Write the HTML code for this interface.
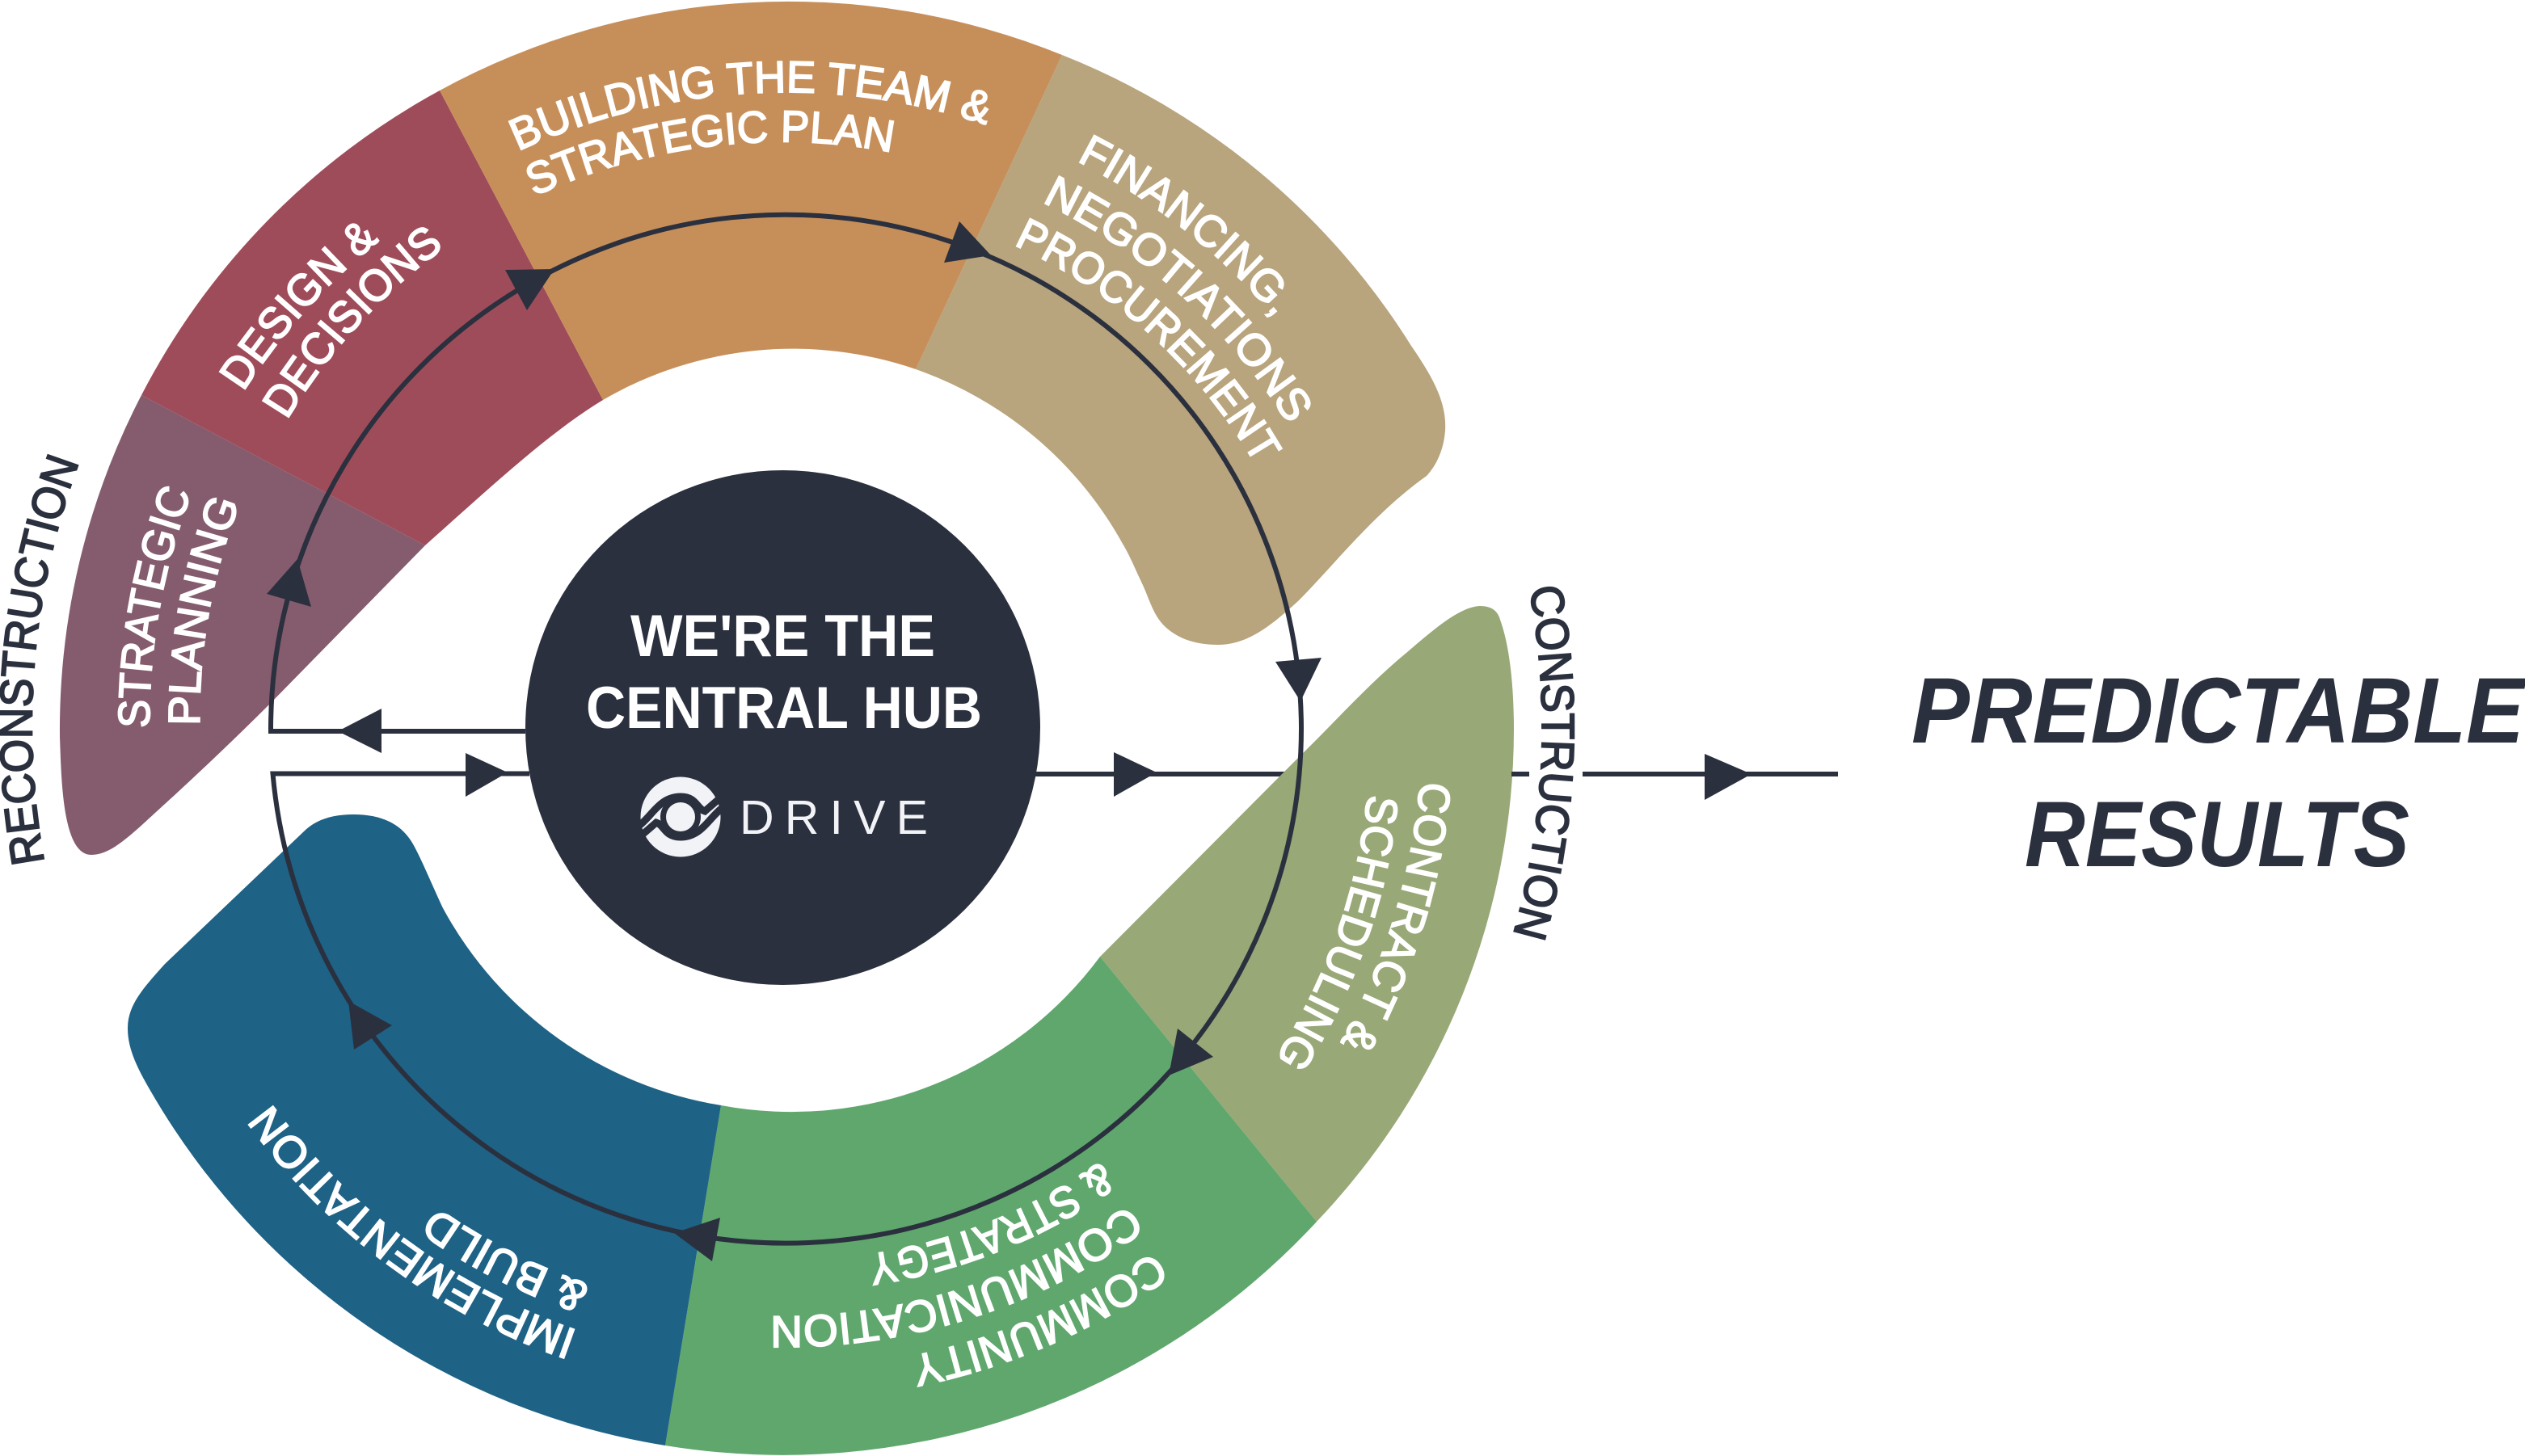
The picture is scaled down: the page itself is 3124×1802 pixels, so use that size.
<!DOCTYPE html>
<html>
<head>
<meta charset="utf-8">
<style>
html,body{margin:0;padding:0;background:#fff;width:3124px;height:1802px;overflow:hidden}
svg{display:block}
.l{font-family:"Liberation Sans",sans-serif;font-size:55px;fill:#fff;stroke:#fff;stroke-width:1.9px}
.o{font-family:"Liberation Sans",sans-serif;font-size:57px;fill:#2b303e;stroke:#2b303e;stroke-width:2px}
</style>
</head>
<body>
<svg xmlns="http://www.w3.org/2000/svg" width="3124" height="1802" viewBox="0 0 3124 1802">
<rect width="3124" height="1802" fill="#fff"/>
<defs>
<path id="p1" d="M641 187A787 787 0 0 1 1222 155"/>
<path id="p2" d="M661 243A726 726 0 0 1 1106 189"/>
<path id="p3" d="M185 901A787 787 0 0 1 237 610"/>
<path id="p4" d="M247 898A726 726 0 0 1 297 622"/>
<path id="p5" d="M301 485A787 787 0 0 1 469 298"/>
<path id="p6" d="M355 520A726 726 0 0 1 552 305"/>
<path id="p7" d="M1332 199A788 788 0 0 1 1578 393"/>
<path id="p8" d="M1289 250A726 726 0 0 1 1594 525"/>
<path id="p9" d="M1254 303A664 664 0 0 1 1554 576"/>
<path id="p10" d="M1757 967A788 788 0 0 1 1658 1291"/>
<path id="p11" d="M1692 983A728 728 0 0 1 1578 1310"/>
<path id="p12" d="M1427 1549A792 792 0 0 1 1126 1679"/>
<path id="p13" d="M1396 1491A727 727 0 0 1 953 1629"/>
<path id="p14" d="M1362 1437A660 660 0 0 1 1073 1553"/>
<path id="p15" d="M715 1647A788 788 0 0 1 335 1365"/>
<path id="p16" d="M730 1590A730 730 0 0 1 540 1494"/>
<path id="p17" d="M55 1067A932 932 0 0 1 98 572"/>
<path id="p18" d="M1892 728A934 934 0 0 1 1872 1157"/>
</defs>

<!-- right output line, behind olive -->
<path d="M1280 958H1600" stroke="#2b303e" stroke-width="6" fill="none"/>

<!-- segments -->
<path fill="#855c6e" d="M175 489A900 900 0 0 0 74 912C76 970 78 1058 113 1058C140 1058 165 1030 215 985Q280 925 335 870L526 675Z"/>
<path fill="#9f4c5a" d="M175 489A900 900 0 0 1 544 112L746 495C680 535 610 600 526 675Z"/>
<path fill="#c68f5a" d="M544 112A900 900 0 0 1 1314 68L1133 457A468 468 0 0 0 746 495Z"/>
<path fill="#b8a47d" d="M1314 68A900 900 0 0 1 1746 428C1775 470 1790 500 1788 533C1786 560 1775 578 1765 589C1700 635 1650 700 1606 744C1575 772 1545 798 1507 798C1478 798 1458 790 1443 777C1426 762 1422 740 1412 720C1404 703 1398 688 1389 673A470 470 0 0 0 1133 457Z"/>
<path fill="#98a877" d="M1361 1184L1629 1512A885 885 0 0 0 1873 903C1873 850 1868 800 1856 767C1852 752 1840 750 1830 750C1805 752 1775 778 1740 808C1695 845 1655 890 1606 938Z"/>
<path fill="#5fa76d" d="M892 1368L823 1789A900 900 0 0 0 1629 1512L1361 1184A475 475 0 0 1 892 1368Z"/>
<path fill="#1e6286" d="M892 1368A478 478 0 0 1 548 1124C530 1085 520 1060 510 1043C495 1018 470 1008 437 1008C410 1008 390 1015 376 1029L204 1193C175 1225 158 1245 158 1273C158 1300 172 1325 185 1348A900 900 0 0 0 823 1789Z"/>

<!-- hub -->
<circle cx="968.5" cy="900.5" r="318.5" fill="#2b303e"/>

<!-- ring and connectors -->
<path d="M650 905H335A637.5 637.5 0 0 1 1610 901.5A637.5 637.5 0 0 1 337.5 957.5H655" fill="none" stroke="#2b303e" stroke-width="6"/>
<path d="M1870 958H1892M1958 958H2274" stroke="#2b303e" stroke-width="6" fill="none"/>

<!-- arrowheads -->
<g fill="#2b303e">
<polygon points="625,334 686,333 652,384"/>
<polygon points="368,692 330,735 385,751"/>
<polygon points="418,905 472,877 472,932"/>
<polygon points="628,956 576,932 576,986"/>
<polygon points="1187,274 1226,316 1168,325"/>
<polygon points="1578,819 1635,814 1609,868"/>
<polygon points="1378,931 1431,956 1378,986"/>
<polygon points="1457,1273 1501,1308 1446,1331"/>
<polygon points="891,1507 834,1526 881,1561"/>
<polygon points="431,1239 485,1269 438,1299"/>
<polygon points="2109,933 2167,958 2109,990"/>
</g>

<!-- segment labels -->
<text class="l"><textPath href="#p1" textLength="594" lengthAdjust="spacingAndGlyphs">BUILDING THE TEAM &amp;</textPath></text>
<text class="l"><textPath href="#p2" textLength="453" lengthAdjust="spacingAndGlyphs">STRATEGIC PLAN</textPath></text>
<text class="l"><textPath href="#p3" textLength="297" lengthAdjust="spacingAndGlyphs">STRATEGIC</textPath></text>
<text class="l"><textPath href="#p4" textLength="282" lengthAdjust="spacingAndGlyphs">PLANNING</textPath></text>
<text class="l"><textPath href="#p5" textLength="253" lengthAdjust="spacingAndGlyphs">DESIGN &amp;</textPath></text>
<text class="l"><textPath href="#p6" textLength="291" lengthAdjust="spacingAndGlyphs">DECISIONS</textPath></text>
<text class="l"><textPath href="#p7" textLength="315" lengthAdjust="spacingAndGlyphs">FINANCING,</textPath></text>
<text class="l"><textPath href="#p8" textLength="417" lengthAdjust="spacingAndGlyphs">NEGOTIATIONS</textPath></text>
<text class="l"><textPath href="#p9" textLength="412" lengthAdjust="spacingAndGlyphs">PROCUREMENT</textPath></text>
<text class="l"><textPath href="#p10" textLength="341" lengthAdjust="spacingAndGlyphs">CONTRACT &amp;</textPath></text>
<text class="l"><textPath href="#p11" textLength="350" lengthAdjust="spacingAndGlyphs">SCHEDULING</textPath></text>
<text class="l"><textPath href="#p12" textLength="330" lengthAdjust="spacingAndGlyphs">COMMUNITY</textPath></text>
<text class="l"><textPath href="#p13" textLength="472" lengthAdjust="spacingAndGlyphs">COMMUNICATION</textPath></text>
<text class="l"><textPath href="#p14" textLength="314" lengthAdjust="spacingAndGlyphs">&amp; STRATEGY</textPath></text>
<text class="l"><textPath href="#p15" textLength="480" lengthAdjust="spacingAndGlyphs">IMPLEMENTATION</textPath></text>
<text class="l"><textPath href="#p16" textLength="214" lengthAdjust="spacingAndGlyphs">&amp; BUILD</textPath></text>

<!-- outer labels -->
<text class="o"><textPath href="#p17" textLength="503" lengthAdjust="spacingAndGlyphs">RECONSTRUCTION</textPath></text>
<text class="o"><textPath href="#p18" textLength="433" lengthAdjust="spacingAndGlyphs">CONSTRUCTION</textPath></text>

<!-- hub text -->
<g font-family="'Liberation Sans',sans-serif">
<text x="780" y="812" font-size="73" font-weight="700" fill="#fff" textLength="377" lengthAdjust="spacingAndGlyphs">WE'RE THE</text>
<text x="725" y="901" font-size="73" font-weight="700" fill="#fff" textLength="490" lengthAdjust="spacingAndGlyphs">CENTRAL HUB</text>
<text x="915" y="1032" font-size="59" fill="#f2f3f7" textLength="233" lengthAdjust="spacing">DRIVE</text>
</g>

<!-- logo -->
<g>
<circle cx="842" cy="1011" r="49.5" fill="#f2f3f7"/>
<circle cx="842" cy="1011" r="25" fill="#2b303e"/>
<path d="M788 1024C806 1012 815 986 842 986C862 986 862 1001 872 1004L894 985" fill="none" stroke="#2b303e" stroke-width="9"/>
<path d="M788 1024C806 1012 815 986 842 986C862 986 862 1001 872 1004L894 985" fill="none" stroke="#2b303e" stroke-width="9" transform="rotate(180 842 1011)"/>
<circle cx="842" cy="1011" r="18" fill="#f2f3f7"/>
</g>

<!-- result text -->
<g font-family="'Liberation Sans',sans-serif" font-style="italic" font-weight="700" font-size="115" fill="#2b303e">
<text x="2365" y="919" textLength="758" lengthAdjust="spacingAndGlyphs">PREDICTABLE</text>
<text x="2505" y="1072" textLength="476" lengthAdjust="spacingAndGlyphs">RESULTS</text>
</g>
</svg>
</body>
</html>
